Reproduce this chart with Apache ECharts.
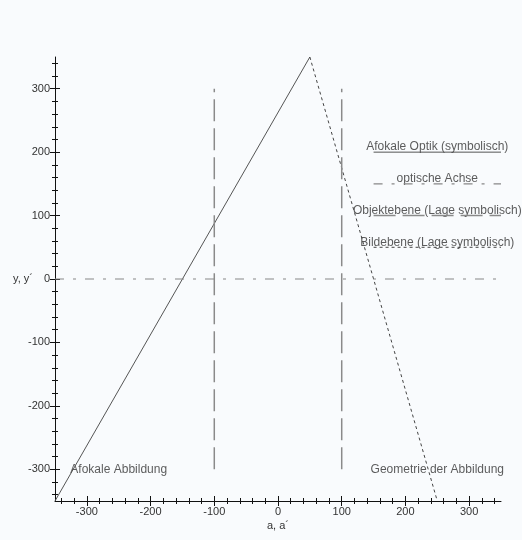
<!DOCTYPE html>
<html>
<head>
<meta charset="utf-8">
<script src="https://cdn.jsdelivr.net/npm/echarts@6/dist/echarts.min.js"></script>
<style>
  html, body { margin: 0; padding: 0; background: #f9fbfd; }
  #main { width: 522px; height: 540px; }
</style>
</head>
<body>
<div id="main"></div>
<script>
// axis ranges and tick values
var axisMin = -350;
var axisMax = 350;
var majorTicks = [-300, -200, -100, 0, 100, 200, 300];
var minorTicks = [-340, -320, -300, -280, -260, -240, -220, -200, -180, -160, -140, -120, -100, -80, -60, -40, -20, 0,
  20, 40, 60, 80, 100, 120, 140, 160, 180, 200, 220, 240, 260, 280, 300, 320, 340];

// Afokale Optik (symbolisch): ray before the optics
var rayX = [-350, 50];
var rayY = [-350, 350];
// Bildebene: ray after the optics
var imageRayX = [50, 250];
var imageRayY = [350, -350];
// optische Achse
var axisLineX = [-350, 350];
var axisLineY = [0, 0];
// Objektebene / Bildebene markers
var planeX = [-100, 100];
var planeY = [-300, 300];

// legend-like notes on the right
var keyTexts = ["Afokale Optik (symbolisch)", "optische Achse", "Objektebene (Lage symbolisch)", "Bildebene (Lage symbolisch)"];
var keyY = [200, 150, 100, 50];
var keyLineX = [150, 350];
var keyTextX = 250;

// captions at the bottom
var noteTexts = ["Afokale Abbildung", "Geometrie der Abbildung"];
var noteX = [-250, 250];
var noteY = [-300, -300];

var font = "Liberation Sans, Arial, sans-serif";
var styles = [
  { color: "#555", width: 1, type: "solid" },
  { color: "#888", width: 1.2, type: [9, 9, 3, 9] },
  { color: "#8a8a8a", width: 1.5, type: [22, 7] },
  { color: "#444", width: 1, type: [3, 3] }
];

function pairs(xs, ys) {
  return xs.map(function(x, i) { return [x, ys[i]]; });
}

function lineSeries(data, style) {
  return {
    type: "line",
    xAxisIndex: 0,
    yAxisIndex: 0,
    data: data,
    showSymbol: false,
    symbol: "none",
    silent: true,
    lineStyle: style
  };
}

var grid = { left: 55, right: 21, top: 57, bottom: 39 };

// extra overlaid axes only draw ticks, so ticks cross the axis line
function tickAxis(idx, values, len, inside) {
  return {
    type: "value",
    gridIndex: idx,
    min: axisMin,
    max: axisMax,
    axisLine: { show: false, onZero: false },
    axisLabel: { show: false },
    splitLine: { show: false },
    axisTick: { show: true, customValues: values, length: len, inside: inside, lineStyle: { color: "#111" } }
  };
}

var xAxes = [{
  type: "value",
  gridIndex: 0,
  min: axisMin,
  max: axisMax,
  name: "a, a\u00b4",
  nameLocation: "middle",
  nameGap: 19,
  nameMoveOverlap: false,
  nameTextStyle: { color: "#333", fontSize: 11, fontFamily: font },
  axisLine: { show: true, onZero: false, lineStyle: { color: "#111" } },
  axisTick: { show: true, customValues: minorTicks, length: 3, lineStyle: { color: "#111" } },
  axisLabel: { customValues: majorTicks, color: "#333", fontSize: 11, fontFamily: font, margin: 5 },
  splitLine: { show: false }
}];
var yAxes = [{
  type: "value",
  gridIndex: 0,
  min: axisMin,
  max: axisMax,
  name: "y, y\u00b4",
  nameLocation: "middle",
  nameRotate: 0,
  nameGap: 22,
  nameMoveOverlap: false,
  nameTextStyle: { color: "#333", fontSize: 11, fontFamily: font },
  axisLine: { show: true, onZero: false, lineStyle: { color: "#111" } },
  axisTick: { show: true, customValues: minorTicks, length: 3, lineStyle: { color: "#111" } },
  axisLabel: { customValues: majorTicks, color: "#333", fontSize: 11, fontFamily: font, margin: 5 },
  splitLine: { show: false }
}];
xAxes.push(tickAxis(1, minorTicks, 3, true), tickAxis(2, majorTicks, 5, false), tickAxis(3, majorTicks, 5, true));
yAxes.push(tickAxis(1, minorTicks, 3, true), tickAxis(2, majorTicks, 5, false), tickAxis(3, majorTicks, 5, true));

var series = [
  lineSeries(pairs(rayX, rayY), styles[0]),
  lineSeries(pairs(imageRayX, imageRayY), styles[3]),
  lineSeries(pairs(axisLineX, axisLineY), styles[1]),
  lineSeries(pairs([planeX[0], planeX[0]], planeY), styles[2]),
  lineSeries(pairs([planeX[1], planeX[1]], planeY), styles[2])
];
keyY.forEach(function(y, i) {
  series.push(lineSeries(pairs(keyLineX, [y, y]), styles[i]));
});

function textSeries(xs, ys, texts, offset) {
  return {
    type: "scatter",
    xAxisIndex: 0,
    yAxisIndex: 0,
    symbolSize: 0,
    silent: true,
    data: xs.map(function(x, i) { return [x, ys[i], texts[i]]; }),
    label: {
      show: true,
      position: "inside",
      offset: offset,
      color: "#333",
      fontSize: 12,
      fontFamily: font,
      formatter: function(p) { return p.data[2]; }
    }
  };
}
series.push(textSeries(keyY.map(function() { return keyTextX; }), keyY, keyTexts, [0, -5]));
series.push(textSeries(noteX, noteY, noteTexts, [0, 0]));

var chart = echarts.init(document.getElementById("main"));
chart.setOption({
  animation: false,
  backgroundColor: "#f9fbfd",
  grid: [grid, grid, grid, grid],
  xAxis: xAxes,
  yAxis: yAxes,
  series: series
});
</script>
</body>
</html>
